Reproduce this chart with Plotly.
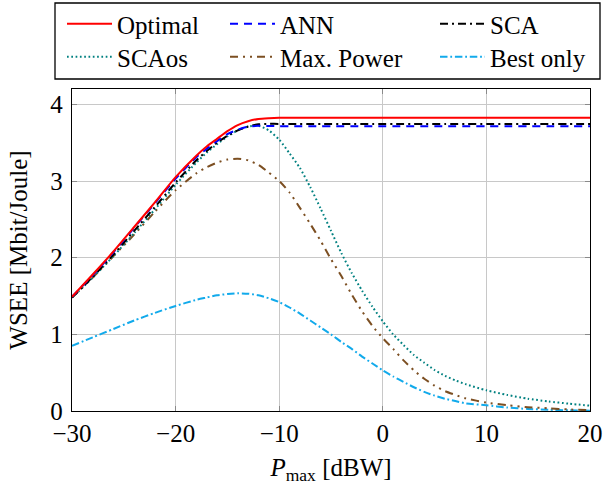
import plotly.graph_objects as go

# Shared x grid (P_max in dBW)
p_max = [-30, -28, -26, -24, -22, -20, -18, -17, -16, -15, -14, -13, -12, -11, -10,
         -9, -8, -7, -6, -5, -4, -3, -2, -1, 0, 1, 2, 3, 4, 5, 6, 7, 8, 10, 12, 14, 16, 18, 20]

optimal = [1.49, 1.78, 2.08, 2.40, 2.72, 3.05, 3.33, 3.45, 3.55, 3.65, 3.73, 3.78, 3.81, 3.82, 3.825,
           3.825, 3.825, 3.825, 3.825, 3.825, 3.825, 3.825, 3.825, 3.825, 3.825, 3.825, 3.825, 3.825,
           3.825, 3.825, 3.825, 3.825, 3.825, 3.825, 3.825, 3.825, 3.825, 3.825, 3.825]

ann = [1.49, 1.77, 2.07, 2.39, 2.71, 3.03, 3.31, 3.42, 3.52, 3.61, 3.67, 3.71, 3.72, 3.718, 3.715,
       3.715, 3.715, 3.715, 3.715, 3.715, 3.715, 3.715, 3.715, 3.715, 3.715, 3.715, 3.715, 3.715,
       3.715, 3.715, 3.715, 3.715, 3.715, 3.715, 3.715, 3.715, 3.715, 3.715, 3.715]

sca = [1.48, 1.75, 2.04, 2.35, 2.66, 2.98, 3.27, 3.39, 3.50, 3.59, 3.66, 3.71, 3.74, 3.745, 3.745,
       3.745, 3.745, 3.745, 3.745, 3.745, 3.745, 3.745, 3.745, 3.745, 3.745, 3.745, 3.745, 3.745,
       3.745, 3.745, 3.745, 3.745, 3.745, 3.745, 3.745, 3.745, 3.745, 3.745, 3.745]

sca_os = [1.48, 1.74, 2.02, 2.32, 2.63, 2.95, 3.24, 3.37, 3.48, 3.58, 3.66, 3.71, 3.72, 3.66, 3.54,
          3.36, 3.17, 2.92, 2.64, 2.35, 2.06, 1.80, 1.57, 1.36, 1.17, 1.00, 0.86, 0.73,
          0.63, 0.535, 0.46, 0.40, 0.35, 0.27, 0.21, 0.16, 0.125, 0.095, 0.07]

max_power = [1.48, 1.74, 2.02, 2.30, 2.60, 2.88, 3.10, 3.18, 3.24, 3.28, 3.29, 3.27, 3.21, 3.11, 3.00,
             2.85, 2.65, 2.44, 2.22, 1.98, 1.76, 1.52, 1.30, 1.11, 0.95, 0.81, 0.66, 0.53,
             0.42, 0.33, 0.26, 0.21, 0.165, 0.11, 0.075, 0.05, 0.035, 0.02, 0.01]

best_only = [0.85, 0.96, 1.07, 1.18, 1.28, 1.37, 1.45, 1.48, 1.51, 1.525, 1.535, 1.53, 1.51, 1.47, 1.42,
             1.35, 1.27, 1.18, 1.09, 1.00, 0.90, 0.81, 0.71, 0.62, 0.53, 0.45, 0.38, 0.31,
             0.25, 0.20, 0.16, 0.13, 0.10, 0.075, 0.045, 0.027, 0.016, 0.009, 0.004]

x_ticks = [-30, -20, -10, 0, 10, 20]
y_ticks = [0, 1, 2, 3, 4]

FONT = "Liberation Serif, Times New Roman, Times, serif"

# plot area in pixels
W, H = 603, 488
ML, MR, MT, MB = 72, 13, 89, 77
PW, PH = W - ML - MR, H - MT - MB

def px_x(px):
    return (px - ML) / PW

def px_y(py):
    return (H - MB - py) / PH

# name, values, colour, dash, legend id, legend column left (px), row top (px)
series = [
    ("Optimal", optimal, "#ff0000", "solid", "legend", 62, 1),
    ("SCAos", sca_os, "#008080", "1.7px,2.6px", "legend2", 62, 34),
    ("ANN", ann, "#0000ff", "8px,6px", "legend3", 225, 1),
    ("Max. Power", max_power, "#7c4f22", "8px,5px,2px,5px,2px,5px", "legend4", 225, 34),
    ("SCA", sca, "#000000", "8px,4px,2px,4px", "legend5", 435, 1),
    ("Best only", best_only, "#12aaeb", "7.5px,2.8px,1.8px,2.8px", "legend6", 435, 34),
]
draw_order = ["Best only", "Max. Power", "SCAos", "SCA", "ANN", "Optimal"]

fig = go.Figure()
lookup = {s[0]: s for s in series}
for name in draw_order:
    _, vals, color, dash, leg, _, _ = lookup[name]
    fig.add_trace(go.Scatter(
        x=p_max, y=vals, name=name, mode="lines", legend=leg,
        line=dict(color=color, width=2, dash=dash, shape="spline", smoothing=0.6),
    ))

axis_common = dict(
    showline=True, linecolor="black", linewidth=1.4, mirror="ticks",
    showgrid=True, gridcolor="#c8c8c8", gridwidth=1,
    ticks="inside", ticklen=5, tickcolor="#8a8a8a", tickwidth=1,
    zeroline=False, automargin=True,
    tickfont=dict(family=FONT, size=25, color="black"),
)

legends = {}
for name, _, _, _, leg, lx, ly in series:
    legends[leg] = dict(
        orientation="v", xref="paper", yref="paper",
        x=px_x(lx), xanchor="left", y=px_y(ly), yanchor="top",
        borderwidth=0, bgcolor="rgba(0,0,0,0)",
        font=dict(family=FONT, size=25, color="black"), itemwidth=45,
    )

fig.update_layout(
    width=W, height=H,
    margin=dict(l=ML, r=MR, t=MT, b=MB, autoexpand=False),
    paper_bgcolor="white", plot_bgcolor="white",
    font=dict(family=FONT, size=25, color="black"),
    xaxis=dict(range=[-30, 20], tickvals=x_ticks,
               title=dict(text="<i>P</i><sub>max</sub> [dBW]", font=dict(family=FONT, size=25),
                          standoff=12),
               **axis_common),
    yaxis=dict(range=[0, 4.2], tickvals=y_ticks, ticklabelstandoff=3,
               title=dict(text="WSEE [Mbit/Joule]", font=dict(family=FONT, size=25),
                          standoff=15),
               **axis_common),
    showlegend=True,
    shapes=[dict(type="rect", xref="paper", yref="paper",
                 x0=px_x(55), x1=px_x(600), y0=px_y(79), y1=px_y(3),
                 line=dict(color="black", width=1.3), fillcolor="rgba(0,0,0,0)", layer="above")],
    **legends,
)

fig.write_html("out.html", config={"displayModeBar": False},
               post_script="document.body.style.margin='0';")
